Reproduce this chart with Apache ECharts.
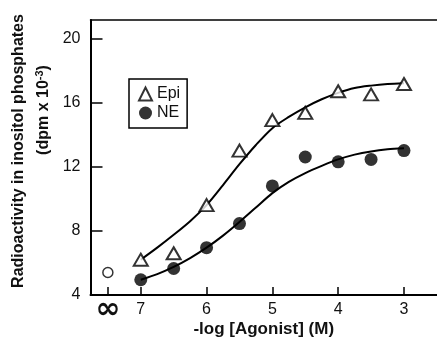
<!DOCTYPE html>
<html>
<head>
<meta charset="utf-8">
<script src="https://cdn.jsdelivr.net/npm/echarts@6/dist/echarts.min.js"></script>
<style>html,body{margin:0;padding:0;background:#fff;}#c{width:437px;height:337px;}</style>
</head>
<body>
<div id="c"></div>
<script>
// ---- data ----
const xTickValues = [7.5, 7, 6, 5, 4, 3];
const xTickLabels = ['∞', '7', '6', '5', '4', '3'];
const yTickValues = [4, 8, 12, 16, 20];
const epiX = [7, 6.5, 6, 5.5, 5, 4.5, 4, 3.5, 3];
const epiY = [6.2, 6.6, 9.6, 13.0, 14.9, 15.35, 16.7, 16.5, 17.15];
const neX = [7, 6.5, 6, 5.5, 5, 4.5, 4, 3.5, 3];
const neY = [4.95, 5.65, 6.95, 8.45, 10.8, 12.6, 12.3, 12.45, 13.0];
const basalX = [7.5];
const basalY = [5.4];
const curveX = [7, 6.75, 6.5, 6.25, 6, 5.75, 5.5, 5.25, 5, 4.75, 4.5, 4.25, 4, 3.75, 3.5, 3.25, 3];
const epiCurveY = [6.2, 6.95, 7.75, 8.6, 9.6, 10.85, 12.15, 13.35, 14.4, 15.1, 15.7, 16.2, 16.6, 16.9, 17.05, 17.15, 17.2];
const neCurveY = [4.95, 5.3, 5.75, 6.3, 6.95, 7.7, 8.55, 9.45, 10.35, 11.05, 11.6, 12.05, 12.45, 12.75, 12.95, 13.08, 13.15];
const seriesNames = ['Epi', 'NE'];
const xTitle = '-log [Agonist] (M)';
const yTitle1 = 'Radioactivity in inositol phosphates';

const zip = (a, b) => a.map((v, i) => [v, b[i]]);
const FONT = 'Liberation Sans, Arial, Helvetica, sans-serif';

const chart = echarts.init(document.getElementById('c'), null, {renderer: 'canvas'});
chart.setOption({
  animation: false,
  backgroundColor: '#fff',
  grid: {left: 90.5, top: 20, right: 0, bottom: 42, containLabel: false, outerBoundsMode: 'none'},
  legend: {
    data: seriesNames,
    orient: 'vertical',
    left: 129, top: 79,
    itemWidth: 13, itemHeight: 13, itemGap: 3,
    padding: [7, 7, 7, 9],
    borderColor: '#000', borderWidth: 1.5,
    textStyle: {fontFamily: FONT, fontSize: 16, color: '#111'}
  },
  xAxis: [{
    type: 'value', min: 2.498, max: 7.764, inverse: true,
    axisLine: {show: true, lineStyle: {color: '#000', width: 2}},
    axisTick: {show: true, inside: true, length: 8, customValues: xTickValues, lineStyle: {color: '#000', width: 1.5}},
    axisLabel: {
      customValues: xTickValues, margin: 7,
      fontFamily: FONT, fontSize: 16, color: '#111',
      formatter: v => {
        const i = xTickValues.indexOf(v);
        const s = i >= 0 ? xTickLabels[i] : '';
        return s === '∞' ? '{inf|' + s + '}' : s;
      },
      rich: {inf: {fontSize: 30, fontWeight: 'bold', fontFamily: 'DejaVu Sans', color: '#111', lineHeight: 16}}
    },
    splitLine: {show: false},
    name: xTitle, nameLocation: 'middle', nameGap: 26, nameMoveOverlap: false,
    nameTextStyle: {fontFamily: FONT, fontSize: 17, fontWeight: 'bold', color: '#111'}
  }, {
    type: 'value', position: 'top', min: 2.498, max: 7.764, inverse: true,
    axisLine: {show: true, lineStyle: {color: '#000', width: 1.5}},
    axisTick: {show: false}, axisLabel: {show: false}, splitLine: {show: false}
  }],
  yAxis: {
    type: 'value', min: 4, max: 21.14,
    axisLine: {show: true, lineStyle: {color: '#000', width: 2}},
    axisTick: {show: true, inside: true, length: 12, customValues: yTickValues, lineStyle: {color: '#000', width: 1.5}},
    axisLabel: {customValues: yTickValues, margin: 10, fontFamily: FONT, fontSize: 16, color: '#111'},
    splitLine: {show: false}
  },
  graphic: [
    {type: 'text', x: 19, y: 151, rotation: Math.PI / 2,
     style: {text: yTitle1, x: 0, y: 0, align: 'center', verticalAlign: 'middle',
             font: 'bold 16px ' + FONT, fill: '#111'}},
    {type: 'text', x: 44, y: 110, rotation: Math.PI / 2,
     style: {text: '{a|(dpm x 10}{s|-3}{a|)}', x: 0, y: 0, align: 'center', verticalAlign: 'middle',
             rich: {a: {font: 'bold 16px ' + FONT, fill: '#111'},
                    s: {font: 'bold 11px ' + FONT, fill: '#111', padding: [0, 0, 9, 0]}}}}
  ],
  series: [
    {type: 'line', data: zip(curveX, epiCurveY), smooth: 0.3, showSymbol: false, silent: true,
     lineStyle: {color: '#000', width: 2}, z: 2},
    {type: 'line', data: zip(curveX, neCurveY), smooth: 0.3, showSymbol: false, silent: true,
     lineStyle: {color: '#000', width: 2}, z: 2},
    {name: 'Epi', type: 'scatter', data: zip(epiX, epiY), symbol: 'triangle', symbolSize: [14, 12],
     itemStyle: {color: '#fff', borderColor: '#000', borderWidth: 2}, z: 3},
    {name: 'NE', type: 'scatter', data: zip(neX, neY), symbol: 'circle', symbolSize: 13,
     itemStyle: {color: '#000', borderColor: '#000', borderWidth: 0}, z: 3},
    {type: 'scatter', data: zip(basalX, basalY), symbol: 'circle', symbolSize: 10,
     itemStyle: {color: '#fff', borderColor: '#000', borderWidth: 1.5}, z: 3}
  ]
});
</script>
</body>
</html>
